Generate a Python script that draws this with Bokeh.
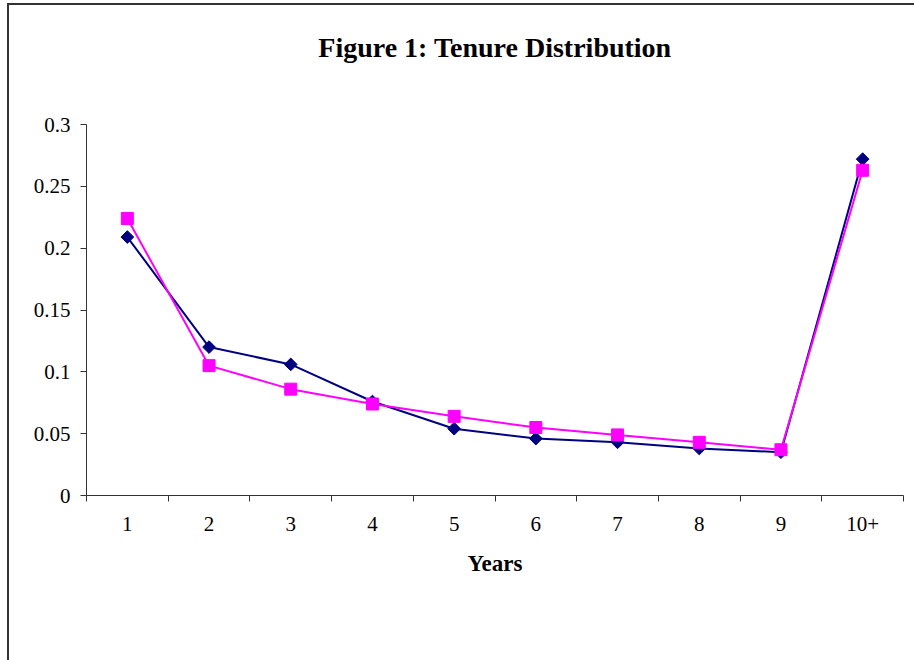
from bokeh.plotting import figure
from bokeh.models import (Range1d, FixedTicker, Legend, LegendItem, InlineStyleSheet, LinearAxis)
from bokeh.embed import file_html
from bokeh.resources import INLINE

title_text = "Figure 1: Tenure Distribution"
years = ["1", "2", "3", "4", "5", "6", "7", "8", "9", "10+"]
data_vals = [0.209, 0.120, 0.106, 0.076, 0.054, 0.046, 0.043, 0.038, 0.035, 0.272]
model_vals = [0.224, 0.105, 0.086, 0.074, 0.064, 0.055, 0.049, 0.043, 0.037, 0.263]
yticks = [0, 0.05, 0.1, 0.15, 0.2, 0.25, 0.3]
ytick_labels = ["0", "0.05", "0.1", "0.15", "0.2", "0.25", "0.3"]

# category centres on a numeric axis (category i occupies [i, i+1])
xpos = [i + 0.5 for i in range(len(years))]
xbounds = list(range(len(years) + 1))

FONT = "Liberation Serif"
AXIS_COLOR = "#333333"

p = figure(x_range=Range1d(0, len(years)), y_range=Range1d(0, 0.3),
           frame_width=817, frame_height=371, output_backend="svg", toolbar_location=None,
           min_border_left=86, min_border_right=11,
           min_border_top=124, min_border_bottom=165)
p.outline_line_color = None
p.grid.visible = False
p.background_fill_color = "white"
p.border_fill_color = "white"

# bottom x axis (grab it before any other axis is added)
xa = p.below[0]
ya = p.left[0]

# y axis
ya.ticker = FixedTicker(ticks=yticks)
ya.major_label_overrides = {t: l for t, l in zip(yticks, ytick_labels)}
ya.major_label_text_font = FONT
ya.major_label_text_font_size = "21px"
ya.major_label_text_color = "black"
ya.axis_line_color = AXIS_COLOR
ya.major_tick_line_color = AXIS_COLOR
ya.major_tick_out = 6
ya.major_tick_in = 0
ya.minor_tick_line_color = None
ya.major_label_standoff = 10

# x axis: labels at category centres, tick marks between categories
xa.ticker = FixedTicker(ticks=xpos, minor_ticks=xbounds)
xa.major_label_overrides = {x: y for x, y in zip(xpos, years)}
xa.major_tick_line_color = None
xa.major_tick_out = 0
xa.major_tick_in = 0
xa.minor_tick_line_color = AXIS_COLOR
xa.minor_tick_out = 6
xa.minor_tick_in = 0
xa.axis_line_color = AXIS_COLOR
xa.major_label_text_font = FONT
xa.major_label_text_font_size = "21px"
xa.major_label_text_color = "black"
xa.major_label_standoff = 15
xa.axis_label = "Years"
xa.axis_label_text_font = FONT
xa.axis_label_text_font_size = "23px"
xa.axis_label_text_font_style = "bold"
xa.axis_label_text_color = "black"
xa.axis_label_standoff = 17

# chart title drawn as the label of an otherwise empty axis above the frame
title_axis = LinearAxis(ticker=FixedTicker(ticks=[]), axis_line_color=None,
                        major_tick_line_color=None, minor_tick_line_color=None,
                        major_label_text_font_size="0px", major_tick_out=0, major_tick_in=0,
                        major_label_standoff=0,
                        axis_label=title_text, axis_label_text_font=FONT,
                        axis_label_text_font_size="28px", axis_label_text_font_style="bold",
                        axis_label_text_color="black", axis_label_standoff=62)
p.add_layout(title_axis, "above")

NAVY = "#000080"
MAGENTA = "#FF00FF"
l1 = p.line(xpos, data_vals, line_color=NAVY, line_width=2)
s1 = p.scatter(xpos, data_vals, marker="square", angle=0.785398, size=9,
               fill_color=NAVY, line_color=NAVY)
l2 = p.line(xpos, model_vals, line_color=MAGENTA, line_width=2)
s2 = p.scatter(xpos, model_vals, marker="square", size=12,
               fill_color=MAGENTA, line_color=MAGENTA)

legend = Legend(items=[LegendItem(label="Data", renderers=[l1, s1]),
                       LegendItem(label="Model", renderers=[l2, s2])],
                orientation="horizontal", location="center",
                label_text_font=FONT, label_text_font_size="22px",
                label_text_color="black", border_line_color=None,
                glyph_width=52, glyph_height=18, label_height=18,
                label_standoff=4, spacing=4, padding=0,
                margin=0, background_fill_alpha=0)
p.add_layout(legend, "below")

p.stylesheets = [InlineStyleSheet(css=":host::after{content:'';position:absolute;left:7px;top:3px;right:0;bottom:0;border-left:2px solid #333;border-top:2px solid #333;pointer-events:none;}")]

open("out.html", "w").write(file_html(p, INLINE))
